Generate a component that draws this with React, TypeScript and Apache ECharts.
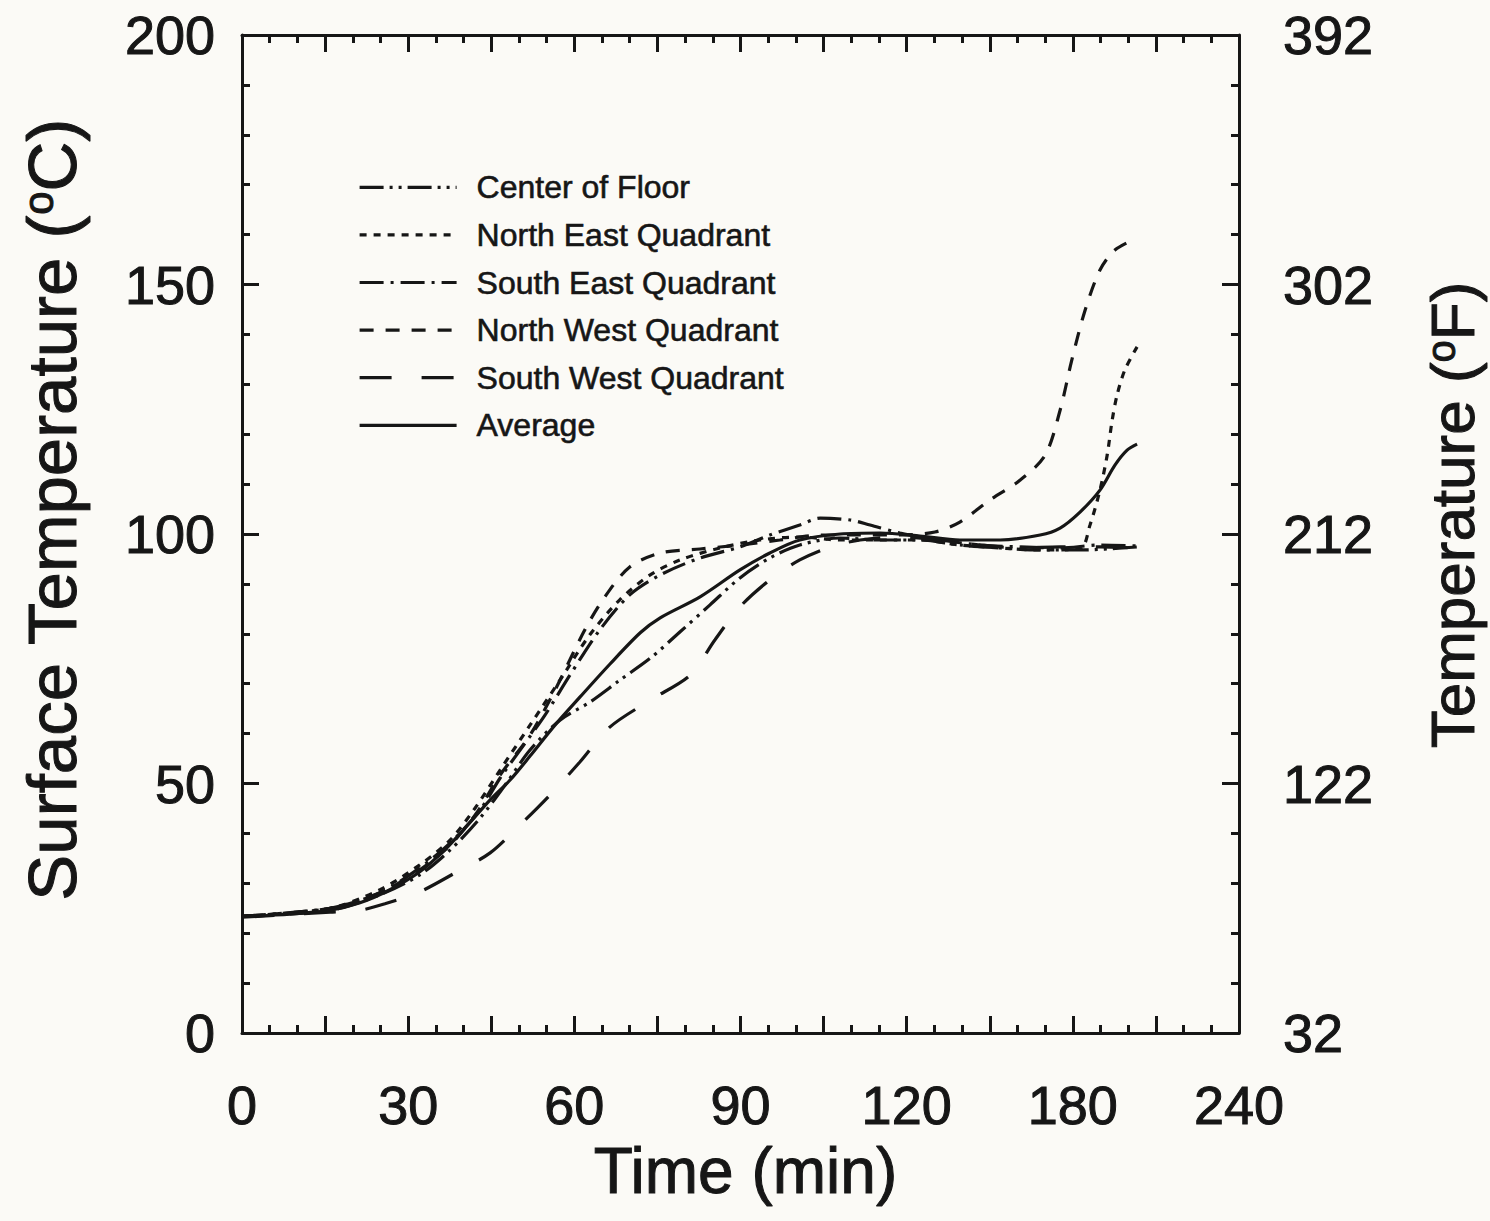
import { useEffect, useRef } from 'react';
import * as echarts from 'echarts';

// x tick labels as printed on the original figure (one every 30-min division)
const xTickLabels = ['0', '30', '60', '90', '120', '180', '240'];
const seriesNames = [
  'Center of Floor',
  'North East Quadrant',
  'South East Quadrant',
  'North West Quadrant',
  'South West Quadrant',
  'Average',
];

// [time (axis units), temperature °C]
const centerOfFloor: number[][] = [
  [0, 23.4], [15.9, 24.6], [24.9, 27.7], [32.1, 31.7], [37.6, 36.7], [43.0, 43.1],
  [47.5, 49.7], [52.0, 56.7], [57.4, 62.7], [62.8, 66.3], [68.2, 70.7], [73.7, 75.1],
  [79.1, 80.4], [84.5, 85.8], [89.9, 91.2], [95.3, 95.2], [100.7, 97.8], [108.0, 99.2],
  [115.2, 98.8], [122.4, 98.8], [129.6, 97.8], [136.9, 97.2], [144.1, 96.8], [151.3, 96.8],
  [161.6, 97.4],
];
const northEast: number[][] = [
  [0, 23.4], [15.9, 25.0], [24.9, 28.7], [32.1, 33.7], [37.6, 38.7], [42.1, 45.1],
  [46.6, 52.7], [52.0, 61.7], [57.4, 70.7], [62.8, 79.8], [68.2, 86.8], [73.7, 91.8],
  [79.1, 94.8], [86.3, 97.2], [93.5, 98.8], [100.7, 99.4], [108.0, 98.8], [115.2, 98.8],
  [122.4, 98.8], [129.6, 97.8], [136.9, 97.2], [144.1, 96.8], [151.3, 97.0], [153.1, 101.8],
  [154.9, 108.8], [156.2, 115.8], [157.1, 122.8], [158.0, 127.9], [159.4, 132.9], [161.6, 137.5],
];
const southEast: number[][] = [
  [0, 23.4], [15.9, 25.0], [24.9, 28.1], [32.1, 33.1], [37.6, 38.1], [43.0, 44.7],
  [46.6, 51.1], [50.2, 56.7], [54.7, 63.7], [59.2, 71.7], [64.6, 80.8], [70.0, 87.8],
  [75.5, 91.8], [82.7, 95.2], [89.9, 97.4], [95.3, 99.8], [100.7, 101.8], [104.4, 103.2],
  [109.8, 102.8], [113.4, 101.8], [118.8, 100.2], [126.0, 98.8], [133.2, 97.8], [140.5, 97.4],
  [147.7, 97.2], [154.9, 97.8], [161.6, 97.6],
];
const northWest: number[][] = [
  [0, 23.4], [15.9, 25.0], [24.9, 28.1], [32.1, 32.7], [37.6, 37.7], [42.1, 43.7],
  [46.6, 51.7], [52.0, 59.7], [56.5, 68.7], [61.9, 80.8], [65.5, 87.4], [70.0, 93.4],
  [75.5, 96.2], [82.7, 97.0], [89.9, 97.8], [97.1, 98.8], [104.4, 99.8], [111.6, 99.8],
  [118.8, 99.8], [125.1, 100.4], [129.6, 102.4], [135.0, 106.8], [140.5, 110.8], [145.0, 115.8],
  [147.7, 124.8], [149.8, 134.8], [152.2, 144.8], [154.9, 152.9], [157.6, 156.9], [161.6, 159.3],
];
const southWest: number[][] = [
  [0, 23.2], [15.9, 24.2], [21.3, 24.6], [25.8, 25.9], [32.1, 28.3], [38.5, 32.1],
  [44.8, 36.1], [50.2, 41.7], [55.6, 47.7], [61.0, 54.3], [66.4, 61.3], [73.7, 66.7],
  [80.9, 71.7], [85.4, 78.8], [89.9, 85.4], [95.3, 90.8], [100.7, 94.8], [106.2, 97.4],
  [111.6, 98.8], [118.8, 99.4], [126.0, 98.8], [133.2, 97.8], [140.5, 97.2], [147.7, 97.4],
  [154.9, 97.4], [161.6, 97.2],
];
const average: number[][] = [
  [0, 23.4], [8.7, 23.8], [15.9, 24.6], [21.3, 26.1], [26.7, 28.7], [32.1, 32.3],
  [36.6, 36.7], [40.3, 41.1], [44.8, 46.7], [48.4, 50.7], [52.0, 55.5], [56.5, 61.7],
  [61.0, 67.3], [66.4, 73.9], [71.9, 80.2], [75.5, 83.2], [82.7, 87.4], [89.9, 92.8],
  [95.3, 96.2], [100.7, 98.8], [108.0, 100.0], [115.2, 100.2], [122.4, 99.6], [129.6, 98.8],
  [136.9, 98.8], [144.1, 99.8], [147.7, 101.2], [151.3, 104.4], [154.9, 108.8], [157.6, 113.8],
  [159.8, 116.8], [161.6, 118.0],
];

const seriesData = [centerOfFloor, northEast, southEast, northWest, southWest, average];
const dashPatterns: (number[] | string)[] = [
  [24, 6, 3, 6, 3, 6],
  [7, 7],
  [24, 7, 3, 7],
  [14, 12],
  [32, 30],
  'solid',
];

const INK = '#161616';
const FONT = '"Liberation Sans", Arial, Helvetica, sans-serif';
const heavy = { textBorderColor: INK, textBorderWidth: 1 };

export default function App() {
  const ref = useRef<HTMLDivElement>(null);
  useEffect(() => {
    if (!ref.current) return;
    const chart = echarts.init(ref.current, undefined, { renderer: 'svg' });
    const tickStyle = { color: INK, width: 3 };
    const axisLine = { show: true, onZero: false, lineStyle: { color: INK, width: 3 } };
    const majorTick = { show: true, inside: true, length: 17, lineStyle: tickStyle };
    chart.setOption({
      animation: false,
      backgroundColor: '#fbfaf6',
      grid: { left: 242, right: 251, top: 35, bottom: 188 },
      legend: {
        orient: 'vertical',
        left: 353,
        top: 166,
        itemWidth: 97,
        itemHeight: 14,
        itemGap: 15,
        data: seriesNames,
        itemStyle: { opacity: 0, color: 'rgba(0,0,0,0)', borderWidth: 0 },
        lineStyle: { width: 3.2 },
        textStyle: { fontSize: 32, color: INK, fontFamily: FONT, padding: [0, 0, 0, 15], ...heavy, textBorderWidth: 0.6 },
      },
      graphic: [
        {
          type: 'text',
          x: 52,
          y: 510,
          rotation: Math.PI / 2,
          style: {
            text: 'Surface Temperature ({sup|o}C)',
            align: 'center',
            verticalAlign: 'middle',
            fontSize: 69,
            fill: INK,
            fontFamily: FONT,
            stroke: INK,
            lineWidth: 1,
            rich: { sup: { fontSize: 42, fill: INK, fontFamily: FONT, verticalAlign: 'top' } },
          },
        },
        {
          type: 'text',
          x: 1452,
          y: 515,
          rotation: Math.PI / 2,
          style: {
            text: 'Temperature ({sup|o}F)',
            align: 'center',
            verticalAlign: 'middle',
            fontSize: 62,
            fill: INK,
            fontFamily: FONT,
            stroke: INK,
            lineWidth: 1,
            rich: { sup: { fontSize: 40, fill: INK, fontFamily: FONT, verticalAlign: 'top' } },
          },
        },
      ],
      xAxis: [
        {
          type: 'value',
          min: 0,
          max: 180,
          interval: 15,
          position: 'bottom',
          axisLine,
          splitLine: { show: false },
          axisTick: majorTick,
          minorTick: { show: true, splitNumber: 3, length: 8, lineStyle: tickStyle },
          axisLabel: {
            margin: 45,
            fontSize: 54,
            color: INK,
            fontFamily: FONT,
            ...heavy,
            formatter: (v: number) => (v % 30 === 0 ? xTickLabels[v / 30] : ''),
          },
          name: 'Time (min)',
          nameLocation: 'middle',
          nameGap: 106,
          nameMoveOverlap: false,
          nameTextStyle: { fontSize: 64, color: INK, fontFamily: FONT, padding: [0, 0, 0, 10], ...heavy },
        },
        {
          type: 'value',
          min: 0,
          max: 180,
          interval: 15,
          position: 'top',
          axisLine,
          splitLine: { show: false },
          axisTick: majorTick,
          minorTick: { show: true, splitNumber: 3, length: 8, lineStyle: tickStyle },
          axisLabel: { show: false },
        },
      ],
      yAxis: [
        {
          type: 'value',
          min: 0,
          max: 200,
          interval: 50,
          position: 'left',
          axisLine,
          splitLine: { show: false },
          axisTick: majorTick,
          minorTick: { show: true, splitNumber: 5, length: 8, lineStyle: tickStyle },
          axisLabel: { margin: 27, fontSize: 54, color: INK, fontFamily: FONT, ...heavy },
        },
        {
          type: 'value',
          min: 0,
          max: 200,
          interval: 50,
          position: 'right',
          axisLine,
          splitLine: { show: false },
          axisTick: majorTick,
          minorTick: { show: true, splitNumber: 5, length: 8, lineStyle: tickStyle },
          axisLabel: {
            margin: 44,
            fontSize: 54,
            color: INK,
            fontFamily: FONT,
            ...heavy,
            formatter: (v: number) => String(Math.round(v * 1.8 + 32)),
          },
        },
      ],
      series: seriesNames.map((name, i) => ({
        name,
        type: 'line',
        xAxisIndex: 0,
        yAxisIndex: 0,
        data: seriesData[i],
        symbol: 'none',
        smooth: 0.3,
        color: INK,
        itemStyle: { color: INK },
        lineStyle: { color: INK, width: 3.2, type: dashPatterns[i] },
      })),
    });
    return () => chart.dispose();
  }, []);
  return (
    <div
      ref={ref}
      style={{ position: 'fixed', left: 0, top: 0, width: 1490, height: 1221 }}
    />
  );
}
